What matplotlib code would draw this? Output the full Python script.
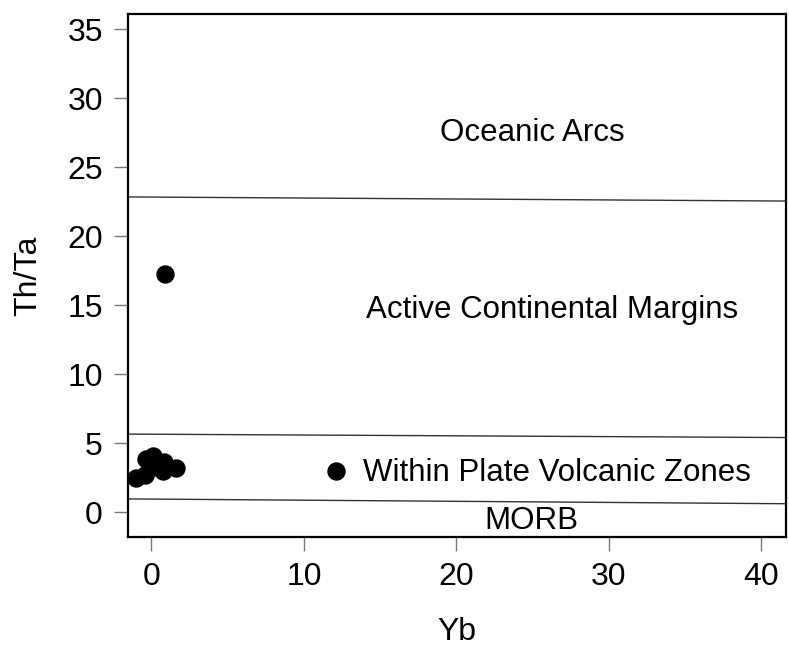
import matplotlib
matplotlib.use("Agg")
import matplotlib.pyplot as plt

# Sample data
yb = [-1.0, -0.45, -0.35, 0.1, -0.1, 0.8, 0.75, 1.6, 12.1, 0.9]
th_ta = [2.45, 2.65, 3.85, 4.05, 3.2, 3.6, 3.0, 3.2, 3.0, 17.25]

# Field boundaries (value at left edge, value at right edge; the scan is slightly tilted)
boundary_left = [22.85, 5.65, 0.95]
boundary_right = [22.55, 5.4, 0.6]

field_names = ["Oceanic Arcs", "Active Continental Margins",
               "Within Plate Volcanic Zones", "MORB"]
field_x = [25.0, 26.3, 26.6, 24.9]
field_y = [27.5, 14.65, 2.8, -0.65]

x_ticks = [0, 10, 20, 30, 40]
y_ticks = [0, 5, 10, 15, 20, 25, 30, 35]

xmin, xmax = -1.55, 41.6
ymin, ymax = -1.8, 36.1

plt.rcParams['font.family'] = ['Liberation Sans', 'DejaVu Sans']

fig = plt.figure(figsize=(7.89, 6.46), dpi=100)
ax = fig.add_axes([0.162, 0.169, 0.834, 0.809])

for yl, yr in zip(boundary_left, boundary_right):
    ax.plot([xmin, xmax], [yl, yr], color='#333333', linewidth=1.0)

ax.scatter(yb, th_ta, s=150, color='black', zorder=3)

for name, x, y in zip(field_names, field_x, field_y):
    ax.text(x, y, name, ha='center', va='center', fontsize=22.5)

ax.set_xlim(xmin, xmax)
ax.set_ylim(ymin, ymax)
ax.set_xticks(x_ticks)
ax.set_yticks(y_ticks)
ax.tick_params(axis='both', labelsize=23, length=10, width=1.0,
               color='#777777', pad=8)
for sp in ax.spines.values():
    sp.set_linewidth(1.6)

ax.set_xlabel("Yb", fontsize=23, labelpad=18)
ax.set_ylabel("Th/Ta", fontsize=23, labelpad=17)

fig.savefig("out.png", dpi=100)
